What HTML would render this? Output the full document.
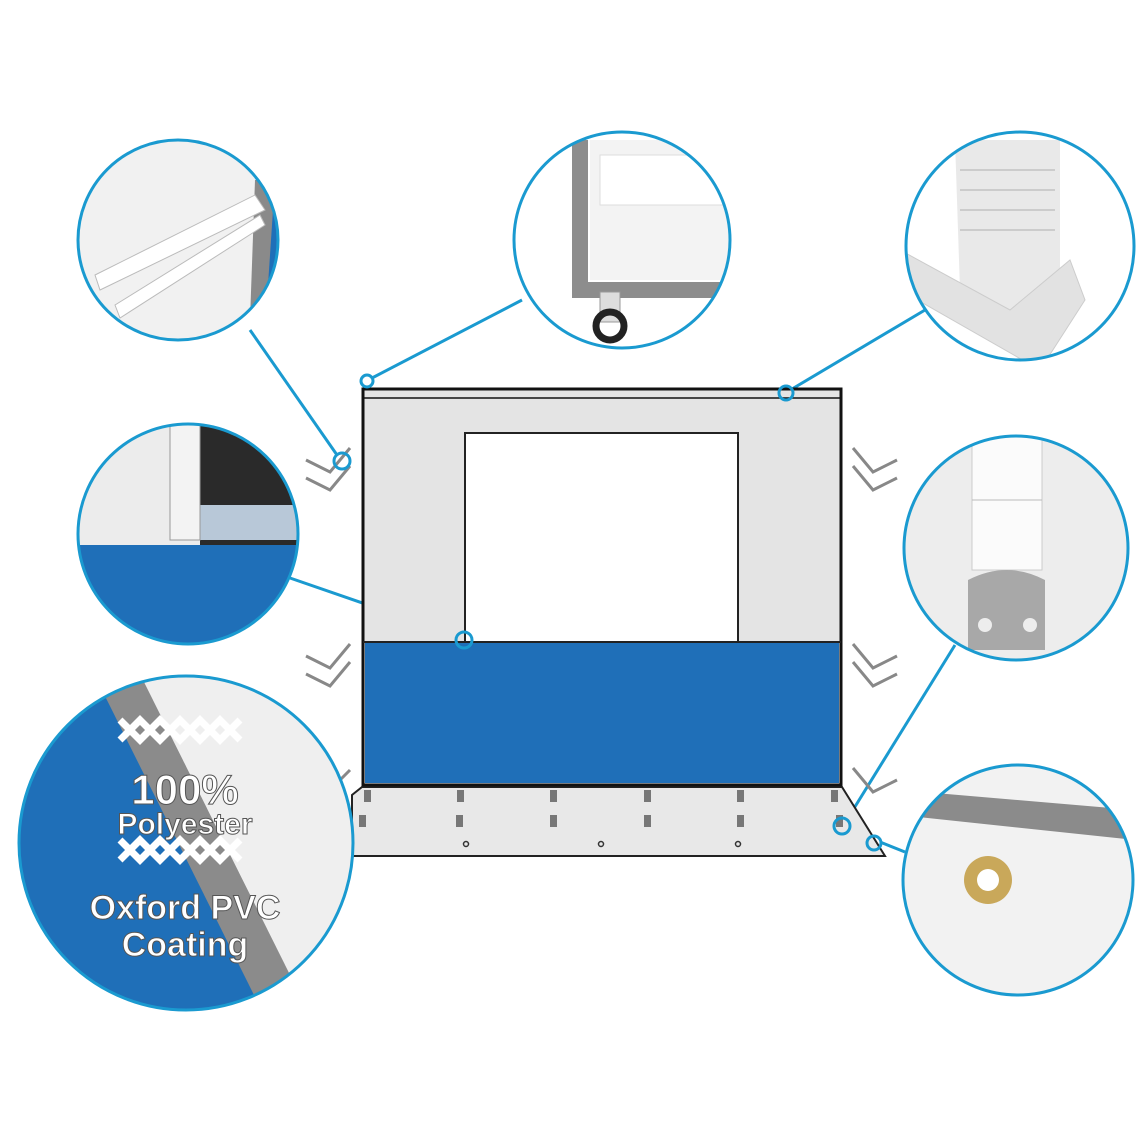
<!DOCTYPE html>
<html><head><meta charset="utf-8"><style>
html,body{margin:0;padding:0;background:#fff;}
svg{display:block;}
</style></head><body>
<svg width="1148" height="1148" viewBox="0 0 1148 1148" xmlns="http://www.w3.org/2000/svg">
<defs>
<clipPath id="c1"><circle cx="178" cy="240" r="100"/></clipPath>
<clipPath id="c2"><circle cx="622" cy="240" r="108"/></clipPath>
<clipPath id="c3"><circle cx="1020" cy="246" r="114"/></clipPath>
<clipPath id="c4"><circle cx="188" cy="534" r="110"/></clipPath>
<clipPath id="c5"><circle cx="1016" cy="548" r="112"/></clipPath>
<clipPath id="c6"><circle cx="186" cy="843" r="167"/></clipPath>
<clipPath id="c7"><circle cx="1018" cy="880" r="115"/></clipPath>
</defs>

<g stroke="#1a9ad0" stroke-width="3" fill="none">
<line x1="250" y1="330" x2="337" y2="455"/>
<line x1="522" y1="300" x2="372" y2="378"/>
<line x1="925" y1="310" x2="792" y2="389"/>
<line x1="290" y1="578" x2="458" y2="636"/>
<line x1="955" y1="645" x2="848" y2="818"/>
<line x1="905" y1="852" x2="880" y2="842"/>
</g>

<polygon points="362,787 842,787 885,856 352,856 352,795" fill="#e8e8e8" stroke="#222" stroke-width="2"/>
<g stroke="#888" stroke-width="3" fill="none">
<polyline points="306,460 330,472 350,448"/><polyline points="306,478 330,490 350,466"/>
<polyline points="306,656 330,668 350,644"/><polyline points="306,674 330,686 350,662"/>
<polyline points="897,460 873,472 853,448"/><polyline points="897,478 873,490 853,466"/>
<polyline points="897,656 873,668 853,644"/><polyline points="897,674 873,686 853,662"/>
<polyline points="897,780 873,792 853,768"/>
<polyline points="310,780 330,790 350,770"/>
</g>
<rect x="363" y="389" width="478" height="396" fill="#e4e4e4" stroke="#111" stroke-width="3"/>
<line x1="363" y1="398" x2="841" y2="398" stroke="#111" stroke-width="1.5"/>
<rect x="465" y="433" width="273" height="209" fill="#fff" stroke="#222" stroke-width="2"/>
<rect x="365" y="643" width="474" height="140" fill="#1f6fb8"/>
<line x1="363" y1="642" x2="841" y2="642" stroke="#222" stroke-width="2"/>
<g fill="#777">
<rect x="364" y="790" width="7" height="12"/><rect x="457" y="790" width="7" height="12"/><rect x="550" y="790" width="7" height="12"/><rect x="644" y="790" width="7" height="12"/><rect x="737" y="790" width="7" height="12"/><rect x="831" y="790" width="7" height="12"/>
<rect x="359" y="815" width="7" height="12"/><rect x="456" y="815" width="7" height="12"/><rect x="550" y="815" width="7" height="12"/><rect x="644" y="815" width="7" height="12"/><rect x="737" y="815" width="7" height="12"/><rect x="836" y="815" width="7" height="12"/>
</g>
<g fill="none" stroke="#333" stroke-width="1.5">
<circle cx="466" cy="844" r="2.5"/><circle cx="601" cy="844" r="2.5"/><circle cx="738" cy="844" r="2.5"/>
</g>
<g fill="none" stroke="#1a9ad0" stroke-width="3">
<circle cx="367" cy="381" r="6"/><circle cx="786" cy="393" r="7"/><circle cx="342" cy="461" r="8"/>
<circle cx="464" cy="640" r="8"/><circle cx="842" cy="826" r="8"/><circle cx="874" cy="843" r="7"/>
</g>

<g clip-path="url(#c1)">
<rect x="70" y="130" width="220" height="220" fill="#f1f1f1"/>
<polygon points="270,130 290,130 290,350 260,330" fill="#1f6fb8"/>
<polygon points="255,180 275,180 265,330 250,320" fill="#8a8a8a"/>
<polygon points="95,275 255,195 265,210 100,290" fill="#fff" stroke="#bbb"/>
<polygon points="115,305 260,215 265,225 120,318" fill="#fff" stroke="#bbb"/>
</g>
<circle cx="178" cy="240" r="100" fill="none" stroke="#1a9ad0" stroke-width="3"/>

<g clip-path="url(#c2)">
<rect x="510" y="130" width="230" height="230" fill="#fff"/>
<path d="M580 140 L580 290 L730 290" fill="none" stroke="#8d8d8d" stroke-width="16"/>
<rect x="590" y="140" width="140" height="140" fill="#f3f3f3"/>
<rect x="600" y="155" width="130" height="50" fill="#fff" stroke="#ddd"/>
<rect x="600" y="292" width="20" height="30" fill="#ddd" stroke="#999"/>
<circle cx="610" cy="326" r="14" fill="none" stroke="#222" stroke-width="7"/>
</g>
<circle cx="622" cy="240" r="108" fill="none" stroke="#1a9ad0" stroke-width="3"/>

<g clip-path="url(#c3)">
<rect x="900" y="130" width="240" height="240" fill="#fff"/>
<polygon points="955,140 1060,140 1060,300 1030,360 960,290" fill="#e9e9e9"/>
<polygon points="900,250 1010,310 1070,260 1085,300 1040,370 900,290" fill="#e2e2e2" stroke="#ccc"/>
<g stroke="#ccc" stroke-width="2"><line x1="960" y1="170" x2="1055" y2="170"/><line x1="960" y1="190" x2="1055" y2="190"/><line x1="960" y1="210" x2="1055" y2="210"/><line x1="960" y1="230" x2="1055" y2="230"/></g>
</g>
<circle cx="1020" cy="246" r="114" fill="none" stroke="#1a9ad0" stroke-width="3"/>

<g clip-path="url(#c4)">
<rect x="75" y="420" width="230" height="230" fill="#1f6fb8"/>
<rect x="75" y="420" width="230" height="125" fill="#ececec"/>
<rect x="200" y="420" width="105" height="125" fill="#2a2a2a"/>
<rect x="200" y="505" width="105" height="35" fill="#b8c8d8"/>
<rect x="170" y="420" width="30" height="120" fill="#f3f3f3" stroke="#999"/>
</g>
<circle cx="188" cy="534" r="110" fill="none" stroke="#1a9ad0" stroke-width="3"/>

<g clip-path="url(#c5)">
<rect x="900" y="430" width="235" height="235" fill="#ededed"/>
<rect x="972" y="430" width="70" height="140" fill="#fbfbfb" stroke="#ccc"/>
<line x1="972" y1="500" x2="1042" y2="500" stroke="#bbb"/>
<path d="M968 580 Q1007 560 1045 580 L1045 650 L968 650 Z" fill="#a8a8a8"/>
<circle cx="985" cy="625" r="7" fill="#ededed"/><circle cx="1030" cy="625" r="7" fill="#ededed"/>
</g>
<circle cx="1016" cy="548" r="112" fill="none" stroke="#1a9ad0" stroke-width="3"/>

<g clip-path="url(#c6)">
<rect x="15" y="670" width="345" height="345" fill="#1f6fb8"/>
<polygon points="115,670 360,670 360,1015 287,1015" fill="#efefef"/>
<polygon points="92,670 138,670 310,1015 264,1015" fill="#8b8b8b"/>
<g stroke="#fff" stroke-width="7" fill="none">
<polyline points="120,740 140,720 160,740 180,720 200,740 220,720 240,740"/>
<polyline points="120,720 140,740 160,720 180,740 200,720 220,740 240,720"/>
<polyline points="120,860 140,840 160,860 180,840 200,860 220,840 240,860"/>
<polyline points="120,840 140,860 160,840 180,860 200,840 220,860 240,840"/>
</g>
<g font-family="Liberation Sans, sans-serif" font-weight="bold" fill="#fff" stroke="#555" stroke-width="1" text-anchor="middle">
<text x="185" y="804" font-size="42">100%</text>
<text x="185" y="834" font-size="30">Polyester</text>
<text x="185" y="919" font-size="34">Oxford PVC</text>
<text x="185" y="956" font-size="34">Coating</text>
</g>
</g>
<circle cx="186" cy="843" r="167" fill="none" stroke="#1a9ad0" stroke-width="3"/>

<g clip-path="url(#c7)">
<rect x="900" y="765" width="235" height="235" fill="#f2f2f2"/>
<polygon points="900,790 1135,810 1135,840 900,815" fill="#8b8b8b"/>
<circle cx="988" cy="880" r="24" fill="#c9a85a"/>
<circle cx="988" cy="880" r="11" fill="#fff"/>
</g>
<circle cx="1018" cy="880" r="115" fill="none" stroke="#1a9ad0" stroke-width="3"/>
</svg>
</body></html>
